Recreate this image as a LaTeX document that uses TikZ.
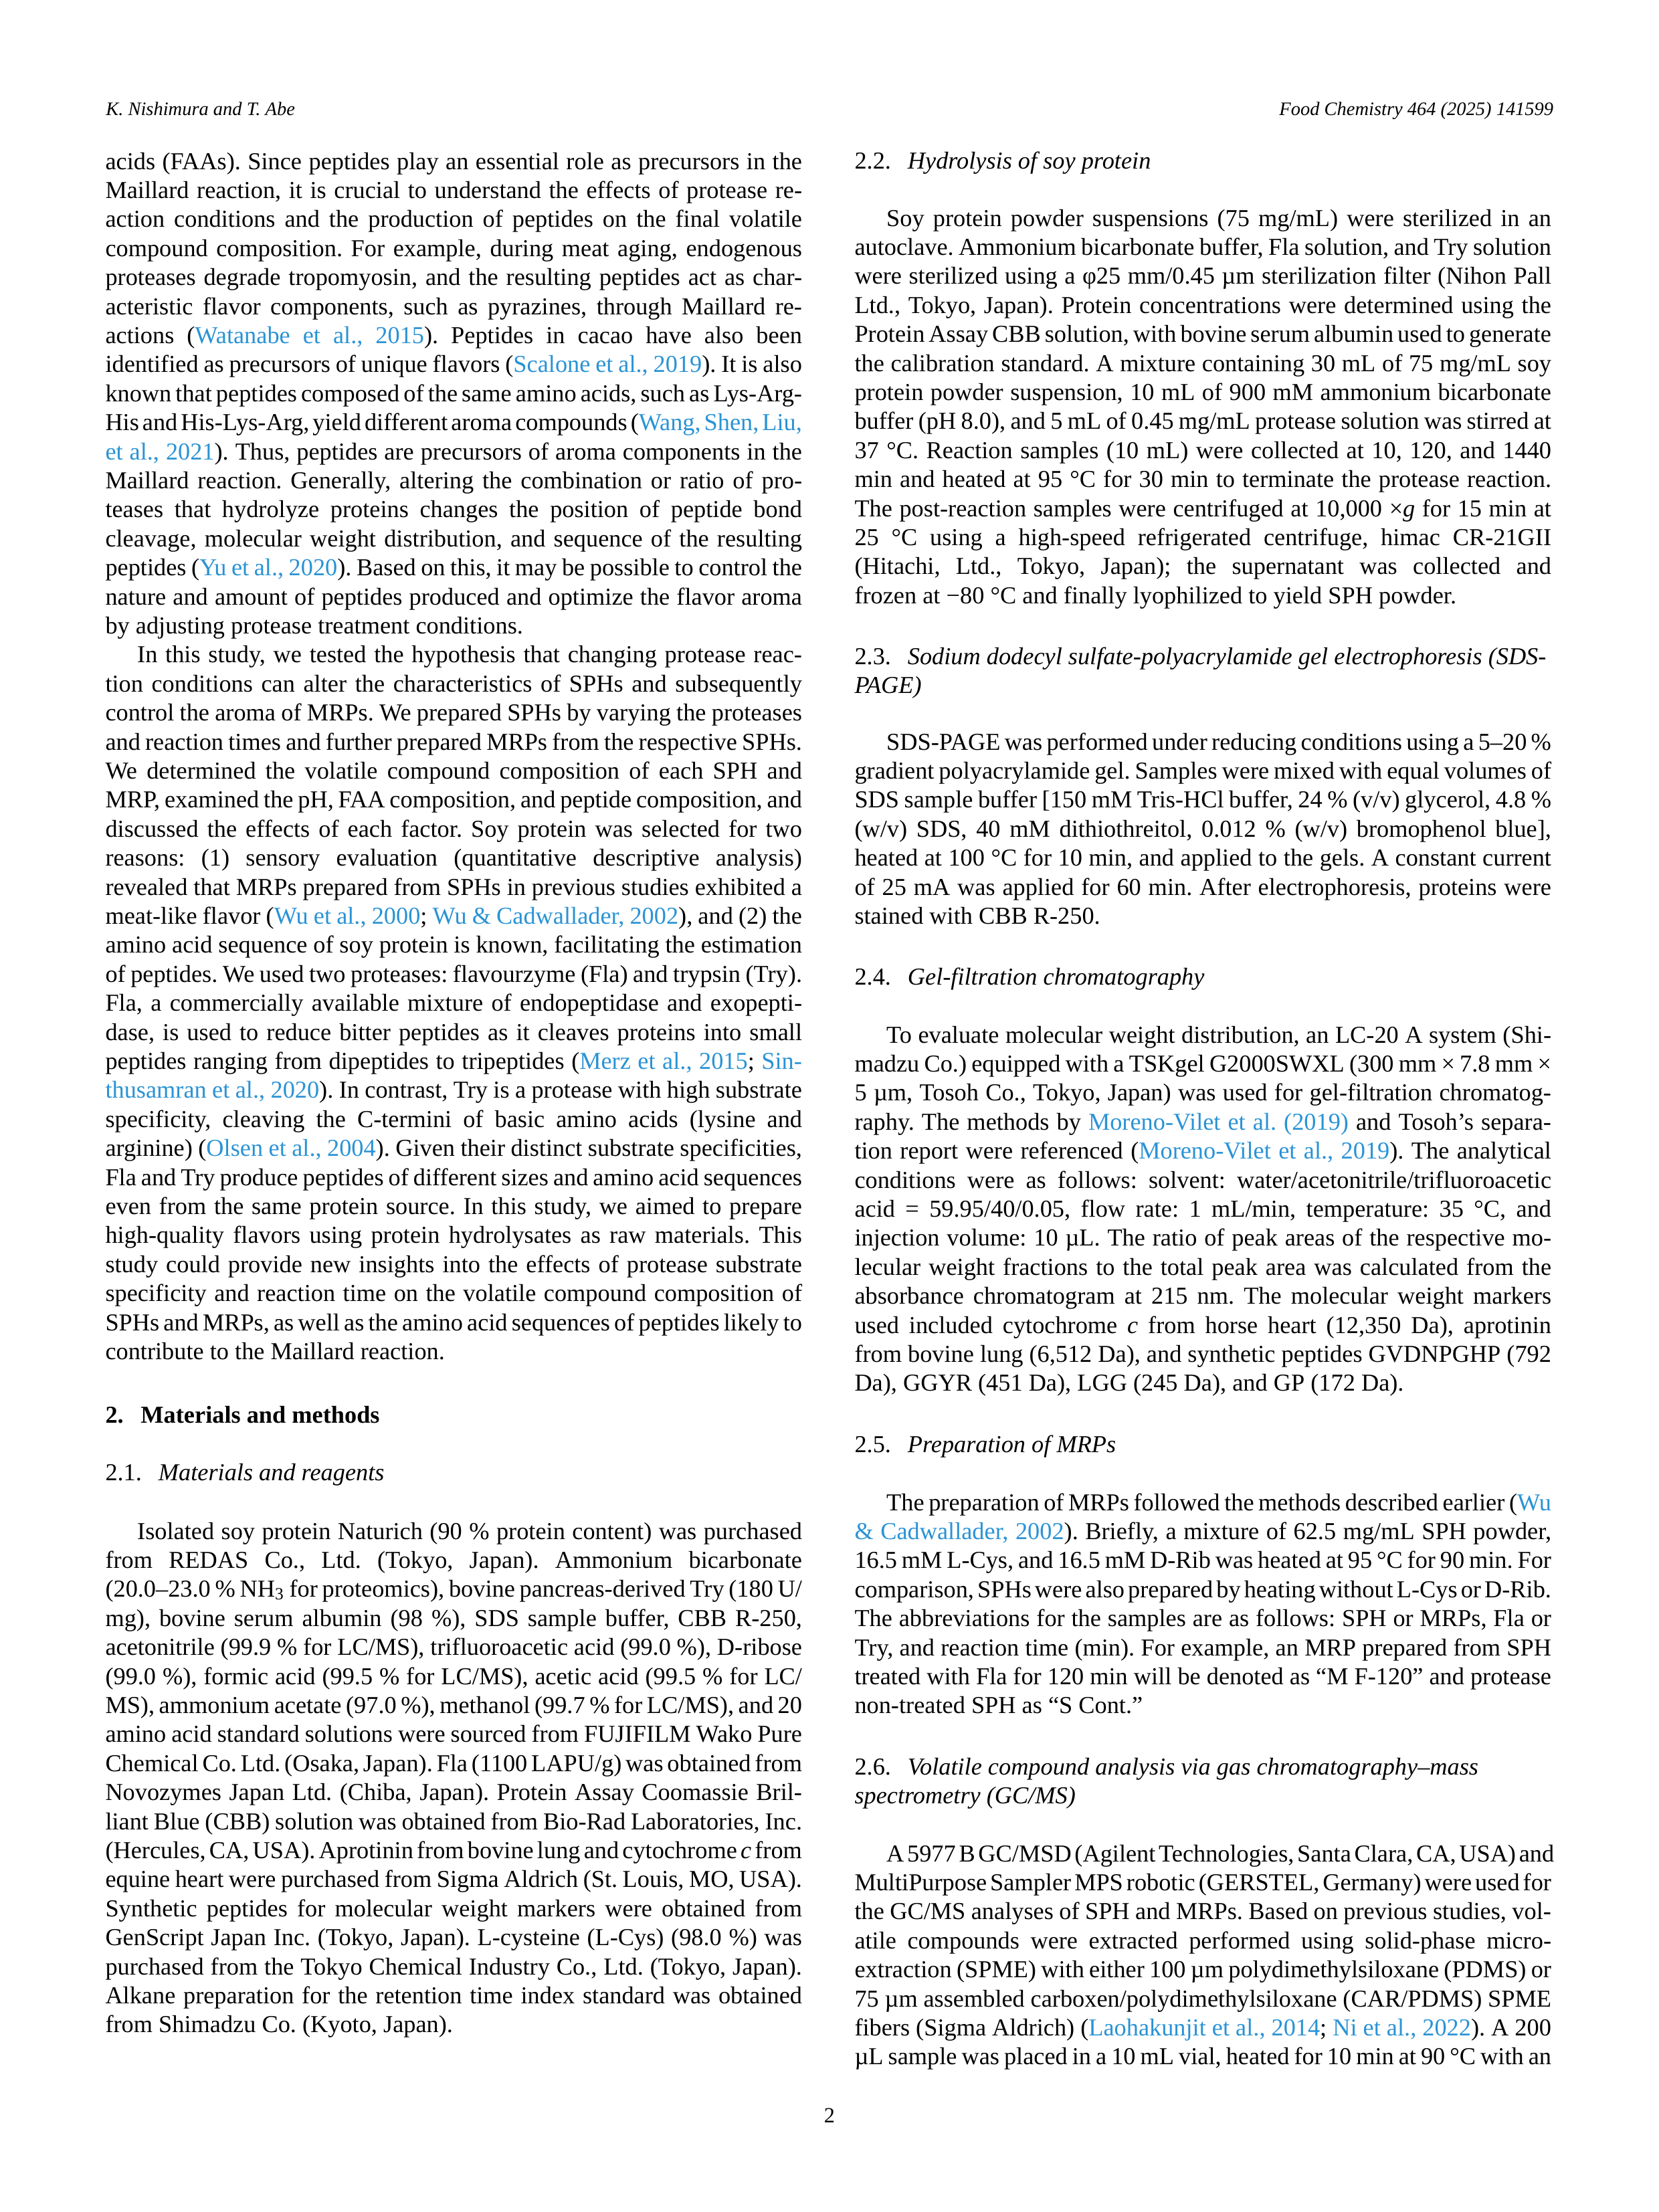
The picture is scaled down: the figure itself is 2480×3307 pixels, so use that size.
\documentclass[tikz,border=0pt]{standalone}
\usepackage{fontspec}
\setmainfont{Liberation Serif}
\usepackage{xcolor}
\definecolor{linkblue}{HTML}{2A93D5}
\newcount\lnc
\newdimen\colw \colw=250.9pt
\newdimen\pind \pind=11.5pt
\newcommand\bodyfont{\fontsize{8.75pt}{10.4pt}\selectfont\frenchspacing\spaceskip=0.25em plus 0.45em minus 0.12em\relax}
\newcommand\hdrfont{\fontsize{6.86pt}{8pt}\selectfont\itshape}
\newcommand\lk[1]{\textcolor{linkblue}{#1}}
\def\cx{157.5}\def\cy{253}
\newcommand\place[2]{\xdef\cx{#1}\xdef\cy{#2}}
\newcommand\emitline[1]{\global\advance\lnc by 1\relax
  \node[txt] (L\the\lnc) at (\cx,\cy) {#1};
  \pgfmathsetmacro\ny{\cy+43.4}\xdef\cy{\ny}}
\newcommand\J[1]{\emitline{\hbox to \colw{#1}}}
\newcommand\JI[1]{\emitline{\hbox to \colw{\hskip\pind #1}}}
\newcommand\JL[1]{\emitline{\hbox to \colw{#1\hfil}}}
\newcommand\Hd[1]{\emitline{\hbox{#1}}}
\tikzset{txt/.style={anchor=base west, inner sep=0pt, outer sep=0pt, font=\bodyfont, text=black}}
\begin{document}
\begin{tikzpicture}[x=0.0846774mm, y=-0.0846774mm]
\useasboundingbox (0,0) rectangle (2480,3307);
\fill[white] (0,0) rectangle (2480,3307);
% running heads
\node[anchor=base west, inner sep=0pt, font=\hdrfont] (hl) at (157.5,172) {K. Nishimura and T. Abe};
\node[anchor=base east, inner sep=0pt, font=\hdrfont] (hr) at (2323,172) {Food Chemistry 464 (2025) 141599};
% ---------------- left column ----------------
\place{157.5}{253}
\J{acids (FAAs). Since peptides play an essential role as precursors in the}
\J{Maillard reaction, it is crucial to understand the effects of protease re-}
\J{action conditions and the production of peptides on the final volatile}
\J{compound composition. For example, during meat aging, endogenous}
\J{proteases degrade tropomyosin, and the resulting peptides act as char-}
\J{acteristic flavor components, such as pyrazines, through Maillard re-}
\J{actions (\lk{Watanabe et al., 2015}). Peptides in cacao have also been}
\J{identified as precursors of unique flavors (\lk{Scalone et al., 2019}). It is also}
\J{known that peptides composed of the same amino acids, such as Lys-Arg-}
\J{His and His-Lys-Arg, yield different aroma compounds (\lk{Wang, Shen, Liu,}}
\J{\lk{et al., 2021}). Thus, peptides are precursors of aroma components in the}
\J{Maillard reaction. Generally, altering the combination or ratio of pro-}
\J{teases that hydrolyze proteins changes the position of peptide bond}
\J{cleavage, molecular weight distribution, and sequence of the resulting}
\J{peptides (\lk{Yu et al., 2020}). Based on this, it may be possible to control the}
\J{nature and amount of peptides produced and optimize the flavor aroma}
\JL{by adjusting protease treatment conditions.}
\JI{In this study, we tested the hypothesis that changing protease reac-}
\J{tion conditions can alter the characteristics of SPHs and subsequently}
\J{control the aroma of MRPs. We prepared SPHs by varying the proteases}
\J{and reaction times and further prepared MRPs from the respective SPHs.}
\J{We determined the volatile compound composition of each SPH and}
\J{MRP, examined the pH, FAA composition, and peptide composition, and}
\J{discussed the effects of each factor. Soy protein was selected for two}
\J{reasons: (1) sensory evaluation (quantitative descriptive analysis)}
\J{revealed that MRPs prepared from SPHs in previous studies exhibited a}
\J{meat-like flavor (\lk{Wu et al., 2000}; \lk{Wu \& Cadwallader, 2002}), and (2) the}
\J{amino acid sequence of soy protein is known, facilitating the estimation}
\J{of peptides. We used two proteases: flavourzyme (Fla) and trypsin (Try).}
\J{Fla, a commercially available mixture of endopeptidase and exopepti-}
\J{dase, is used to reduce bitter peptides as it cleaves proteins into small}
\J{peptides ranging from dipeptides to tripeptides (\lk{Merz et al., 2015}; \lk{Sin-}}
\J{\lk{thusamran et al., 2020}). In contrast, Try is a protease with high substrate}
\J{specificity, cleaving the C-termini of basic amino acids (lysine and}
\J{arginine) (\lk{Olsen et al., 2004}). Given their distinct substrate specificities,}
\J{Fla and Try produce peptides of different sizes and amino acid sequences}
\J{even from the same protein source. In this study, we aimed to prepare}
\J{high-quality flavors using protein hydrolysates as raw materials. This}
\J{study could provide new insights into the effects of protease substrate}
\J{specificity and reaction time on the volatile compound composition of}
\J{SPHs and MRPs, as well as the amino acid sequences of peptides likely to}
\JL{contribute to the Maillard reaction.}
\place{157.5}{2127}
\Hd{\bfseries 2.\hskip6.2pt Materials and methods}
\place{157.5}{2213}
\Hd{2.1.\hskip6pt \itshape Materials and reagents}
\place{157.5}{2301}
\JI{Isolated soy protein Naturich (90 \% protein content) was purchased}
\J{from REDAS Co., Ltd. (Tokyo, Japan). Ammonium bicarbonate}
\J{(20.0–23.0 \% NH\textsubscript{3} for proteomics), bovine pancreas-derived Try (180 U/}
\J{mg), bovine serum albumin (98 \%), SDS sample buffer, CBB R-250,}
\J{acetonitrile (99.9 \% for LC/MS), trifluoroacetic acid (99.0 \%), D-ribose}
\J{(99.0 \%), formic acid (99.5 \% for LC/MS), acetic acid (99.5 \% for LC/}
\J{MS), ammonium acetate (97.0 \%), methanol (99.7 \% for LC/MS), and 20}
\J{amino acid standard solutions were sourced from FUJIFILM Wako Pure}
\J{Chemical Co. Ltd. (Osaka, Japan). Fla (1100 LAPU/g) was obtained from}
\J{Novozymes Japan Ltd. (Chiba, Japan). Protein Assay Coomassie Bril-}
\J{liant Blue (CBB) solution was obtained from Bio-Rad Laboratories, Inc.}
\J{(Hercules, CA, USA). Aprotinin from bovine lung and cytochrome \textit{c} from}
\J{equine heart were purchased from Sigma Aldrich (St. Louis, MO, USA).}
\J{Synthetic peptides for molecular weight markers were obtained from}
\J{GenScript Japan Inc. (Tokyo, Japan). L-cysteine (L-Cys) (98.0 \%) was}
\J{purchased from the Tokyo Chemical Industry Co., Ltd. (Tokyo, Japan).}
\J{Alkane preparation for the retention time index standard was obtained}
\JL{from Shimadzu Co. (Kyoto, Japan).}
% ---------------- right column ----------------
\place{1277.5}{252}
\Hd{2.2.\hskip6pt \itshape Hydrolysis of soy protein}
\place{1277.5}{338}
\JI{Soy protein powder suspensions (75 mg/mL) were sterilized in an}
\J{autoclave. Ammonium bicarbonate buffer, Fla solution, and Try solution}
\J{were sterilized using a φ25 mm/0.45 µm sterilization filter (Nihon Pall}
\J{Ltd., Tokyo, Japan). Protein concentrations were determined using the}
\J{Protein Assay CBB solution, with bovine serum albumin used to generate}
\J{the calibration standard. A mixture containing 30 mL of 75 mg/mL soy}
\J{protein powder suspension, 10 mL of 900 mM ammonium bicarbonate}
\J{buffer (pH 8.0), and 5 mL of 0.45 mg/mL protease solution was stirred at}
\J{37 °C. Reaction samples (10 mL) were collected at 10, 120, and 1440}
\J{min and heated at 95 °C for 30 min to terminate the protease reaction.}
\J{The post-reaction samples were centrifuged at 10,000 ×\textit{g} for 15 min at}
\J{25 °C using a high-speed refrigerated centrifuge, himac CR-21GII}
\J{(Hitachi, Ltd., Tokyo, Japan); the supernatant was collected and}
\JL{frozen at −80 °C and finally lyophilized to yield SPH powder.}
\place{1277.5}{993}
\Hd{2.3.\hskip6pt \itshape Sodium dodecyl sulfate-polyacrylamide gel electrophoresis (SDS-}
\Hd{\itshape PAGE)}
\place{1277.5}{1121}
\JI{SDS-PAGE was performed under reducing conditions using a 5–20 \%}
\J{gradient polyacrylamide gel. Samples were mixed with equal volumes of}
\J{SDS sample buffer [150 mM Tris-HCl buffer, 24 \% (v/v) glycerol, 4.8 \%}
\J{(w/v) SDS, 40 mM dithiothreitol, 0.012 \% (w/v) bromophenol blue],}
\J{heated at 100 °C for 10 min, and applied to the gels. A constant current}
\J{of 25 mA was applied for 60 min. After electrophoresis, proteins were}
\JL{stained with CBB R-250.}
\place{1277.5}{1472}
\Hd{2.4.\hskip6pt \itshape Gel-filtration chromatography}
\place{1277.5}{1559}
\JI{To evaluate molecular weight distribution, an LC-20 A system (Shi-}
\J{madzu Co.) equipped with a TSKgel G2000SWXL (300 mm × 7.8 mm ×}
\J{5 µm, Tosoh Co., Tokyo, Japan) was used for gel-filtration chromatog-}
\J{raphy. The methods by \lk{Moreno-Vilet et al. (2019)} and Tosoh’s separa-}
\J{tion report were referenced (\lk{Moreno-Vilet et al., 2019}). The analytical}
\J{conditions were as follows: solvent: water/acetonitrile/trifluoroacetic}
\J{acid = 59.95/40/0.05, flow rate: 1 mL/min, temperature: 35 °C, and}
\J{injection volume: 10 µL. The ratio of peak areas of the respective mo-}
\J{lecular weight fractions to the total peak area was calculated from the}
\J{absorbance chromatogram at 215 nm. The molecular weight markers}
\J{used included cytochrome \textit{c} from horse heart (12,350 Da), aprotinin}
\J{from bovine lung (6,512 Da), and synthetic peptides GVDNPGHP (792}
\JL{Da), GGYR (451 Da), LGG (245 Da), and GP (172 Da).}
\place{1277.5}{2171}
\Hd{2.5.\hskip6pt \itshape Preparation of MRPs}
\place{1277.5}{2258}
\JI{The preparation of MRPs followed the methods described earlier (\lk{Wu}}
\J{\lk{\& Cadwallader, 2002}). Briefly, a mixture of 62.5 mg/mL SPH powder,}
\J{16.5 mM L-Cys, and 16.5 mM D-Rib was heated at 95 °C for 90 min. For}
\J{comparison, SPHs were also prepared by heating without L-Cys or D-Rib.}
\J{The abbreviations for the samples are as follows: SPH or MRPs, Fla or}
\J{Try, and reaction time (min). For example, an MRP prepared from SPH}
\J{treated with Fla for 120 min will be denoted as “M F-120” and protease}
\JL{non-treated SPH as “S Cont.”}
\place{1277.5}{2653}
\Hd{2.6.\hskip6pt \itshape Volatile compound analysis via gas chromatography–mass}
\Hd{\itshape spectrometry (GC/MS)}
\place{1277.5}{2783}
\JI{A 5977 B GC/MSD (Agilent Technologies, Santa Clara, CA, USA) and}
\J{MultiPurpose Sampler MPS robotic (GERSTEL, Germany) were used for}
\J{the GC/MS analyses of SPH and MRPs. Based on previous studies, vol-}
\J{atile compounds were extracted performed using solid-phase micro-}
\J{extraction (SPME) with either 100 µm polydimethylsiloxane (PDMS) or}
\J{75 µm assembled carboxen/polydimethylsiloxane (CAR/PDMS) SPME}
\J{fibers (Sigma Aldrich) (\lk{Laohakunjit et al., 2014}; \lk{Ni et al., 2022}). A 200}
\J{µL sample was placed in a 10 mL vial, heated for 10 min at 90 °C with an}
% page number
\node[anchor=base, inner sep=0pt, font=\fontsize{7.8pt}{9pt}\selectfont] (pg) at (1240,3173) {2};
\end{tikzpicture}
\end{document}
